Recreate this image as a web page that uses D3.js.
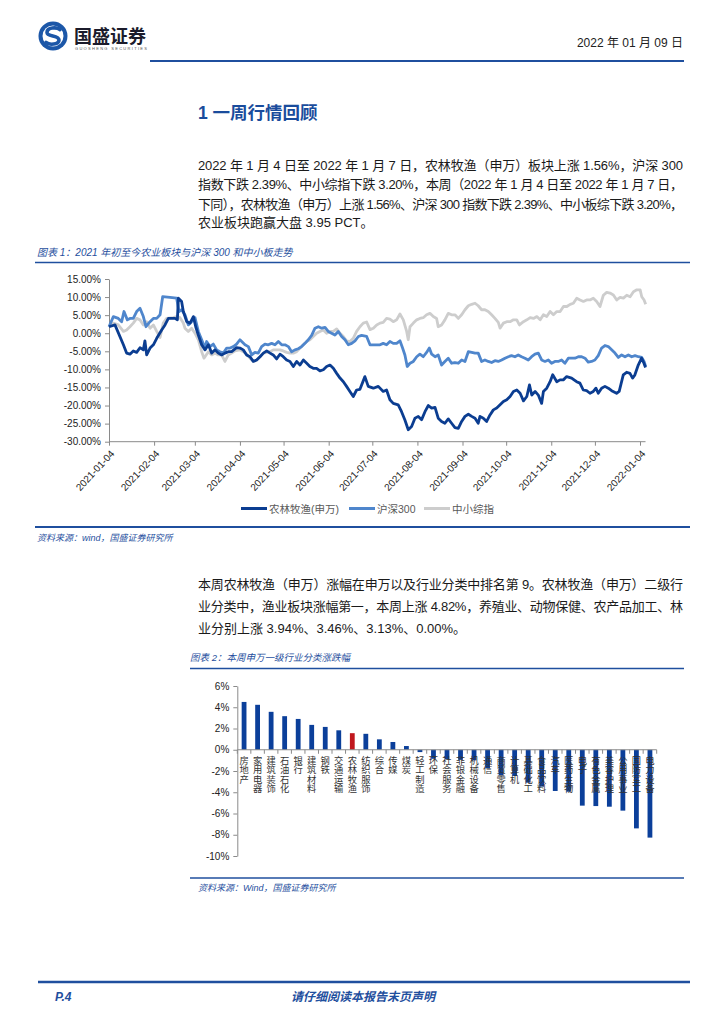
<!DOCTYPE html>
<html><head><meta charset="utf-8">
<script src="https://cdn.jsdelivr.net/npm/d3@7"></script>
<style>body{margin:0;background:#fff}svg{display:block}</style>
</head><body>
<svg id="c" width="724" height="1024"></svg>
<script>
// ---------- DATA ----------
const startDate = "2021-01-04";
// days since 2021-01-04 and cumulative change (%)
const nlDays = [0,4.1,9.9,12.1,14.4,16.7,19.0,21.3,23.6,24.7,25.9,28.2,30.5,32.8,36.2,38.5,40.8,45.4,47.0,47.7,49.9,51.1,53.4,55.7,58.0,59.6,61.4,63.7,66.0,68.3,70.6,72.9,75.1,77.4,79.7,82.0,84.3,87.7,90.0,92.3,94.6,96.9,99.2,101.5,103.8,106.1,108.4,110.7,112.9,115.2,117.5,119.8,122.1,124.4,126.7,129.0,131.3,133.6,135.9,138.1,140.4,142.7,145.0,147.3,149.6,151.9,154.2,156.5,158.8,161.1,163.3,165.6,167.9,170.2,172.5,175.9,178.2,181.7,185.1,188.5,190.8,193.1,195.4,198.8,201.1,203.4,205.7,208.0,210.3,212.6,214.9,217.2,219.5,221.8,224.1,226.3,228.6,230.9,233.2,235.5,237.8,240.1,242.4,244.7,247.0,249.3,251.6,253.8,255.0,257.3,259.6,261.9,264.2,266.5,268.8,271.1,273.4,275.7,278.0,280.3,282.6,284.9,287.2,289.0,290.6,292.9,295.1,297.4,298.6,300.9,303.2,305.0,307.8,310.0,312.3,314.6,318.0,321.4,323.7,326.0,328.3,330.6,332.9,334.7,336.3,338.6,340.9,343.2,345.5,348.9,350.7,353.5,355.8,358.1,359.9,361.5,363.8,366.1,367.7,368.8];
const nlVals = [1.8,2.3,-3.2,-5.5,-5.8,-4.9,-5.3,-4.0,-4.6,-2.1,-6.0,-4.1,-3.2,-1.4,0.9,2.3,4.1,4.1,3.7,9.7,8.8,6.0,3.2,2.8,4.6,1.8,-0.5,-3.2,-4.6,-3.2,-5.5,-4.6,-5.5,-6.0,-5.5,-5.1,-5.1,-4.0,-4.1,-4.6,-6.0,-6.5,-7.8,-7.4,-6.5,-5.5,-4.9,-5.5,-6.0,-7.1,-5.8,-6.5,-7.4,-7.8,-9.2,-7.8,-8.8,-7.4,-8.3,-9.2,-9.7,-9.7,-10.4,-10.1,-9.2,-8.8,-9.7,-11.1,-12.4,-13.4,-14.7,-16.1,-17.5,-15.7,-15.5,-12.0,-14.7,-15.2,-14.7,-16.1,-15.7,-18.4,-19.4,-19.8,-21.7,-24.0,-26.7,-25.8,-23.5,-23.0,-23.9,-21.7,-20.0,-20.7,-20.5,-23.5,-24.4,-24.9,-23.7,-24.9,-26.1,-26.3,-24.4,-23.0,-22.4,-23.0,-23.5,-24.9,-23.0,-23.5,-24.4,-22.6,-21.2,-20.7,-19.8,-18.9,-18.4,-17.5,-16.1,-15.7,-16.6,-18.7,-17.5,-14.3,-17.1,-16.1,-17.1,-19.4,-16.1,-15.2,-13.4,-11.5,-13.4,-12.9,-12.9,-12.0,-12.4,-13.4,-13.8,-15.7,-15.9,-16.6,-16.1,-15.2,-16.6,-15.2,-14.7,-15.2,-15.9,-16.6,-16.1,-11.5,-10.8,-11.1,-12.4,-11.5,-8.8,-6.9,-8.3,-9.5];

const hsDays = [0,3.0,6.4,8.7,10.3,12.6,14.4,16.7,19.0,21.3,23.6,25.4,28.2,30.5,32.8,35.1,36.9,41.9,46.5,48.1,49.9,52.2,54.5,56.8,59.1,61.4,63.7,66.0,67.1,69.4,71.7,74.0,76.3,78.6,80.9,83.2,85.5,87.7,90.0,93.5,95.8,98.1,100.3,102.6,104.9,107.2,109.5,111.8,114.1,116.4,118.7,121.0,123.3,125.5,127.8,130.1,132.4,134.7,137.0,139.3,141.6,143.9,146.2,148.5,150.7,153.0,155.3,157.6,159.9,162.2,164.5,166.8,169.1,171.4,173.6,177.1,179.4,184.0,186.3,188.5,190.8,193.1,195.4,197.7,200.0,201.8,203.4,205.0,206.9,209.2,211.5,213.7,216.0,218.3,220.2,221.8,224.1,226.3,228.6,230.9,233.2,235.5,237.8,240.1,242.4,244.7,247.0,249.3,251.6,253.8,256.1,258.4,260.7,263.0,265.3,267.6,269.9,272.2,274.5,276.7,279.0,281.3,283.6,285.9,288.2,290.5,292.8,295.1,297.4,299.7,302.0,304.2,306.5,308.8,311.1,313.4,315.7,318.0,320.3,322.6,324.9,327.2,329.4,331.7,334.0,336.3,338.6,340.9,343.2,345.5,347.8,350.1,352.4,354.7,357.0,359.3,361.6,363.9,366.2,367.8,368.9];
const hsVals = [1.8,4.6,4.1,3.2,6.0,3.7,4.1,4.1,6.0,6.9,4.6,1.8,3.2,4.1,4.1,5.1,10.1,9.9,9.7,6.0,6.5,5.1,2.3,3.2,4.3,0.5,-1.8,-4.1,-2.3,-3.7,-3.0,-4.6,-5.1,-5.5,-4.1,-4.1,-3.7,-3.0,-1.8,-3.2,-3.7,-6.0,-5.3,-5.5,-3.7,-3.0,-3.2,-2.8,-3.2,-2.3,-3.2,-3.2,-3.7,-5.1,-4.6,-4.3,-3.7,-2.8,-1.8,-0.6,1.4,1.8,1.4,1.6,0.5,0.0,-0.5,0.5,-0.9,-1.8,-3.2,-2.8,-2.1,-0.9,-0.6,-0.9,-3.2,-3.2,-3.2,-2.8,-3.2,-2.3,-2.8,-2.8,-2.1,-4.1,-6.0,-9.2,-8.3,-7.8,-6.5,-5.8,-6.5,-5.3,-4.1,-5.8,-6.5,-6.0,-8.8,-7.8,-6.9,-8.3,-8.1,-8.3,-7.4,-7.8,-5.1,-5.3,-5.5,-5.5,-7.8,-7.4,-7.8,-8.1,-7.6,-7.8,-7.4,-6.9,-6.5,-6.2,-6.5,-6.0,-6.5,-6.9,-7.4,-6.5,-5.8,-5.5,-7.4,-7.8,-7.4,-8.3,-7.8,-7.8,-7.4,-8.3,-6.9,-6.9,-6.9,-6.5,-6.5,-6.9,-8.0,-7.8,-7.4,-6.2,-4.1,-3.4,-3.7,-4.6,-5.5,-6.7,-6.0,-6.5,-6.0,-6.5,-6.2,-6.5,-6.7,-7.8,-9.2];

const zxDays = [0,3.0,6.4,9.9,12.1,14.4,16.7,19.0,21.3,23.6,25.9,28.2,30.5,32.8,35.1,37.3,39.6,44.2,46.5,48.8,51.1,52.2,54.5,56.8,59.1,61.4,63.7,65.3,68.3,70.6,72.9,75.1,77.4,79.7,82.0,84.3,86.6,90.0,92.3,94.6,96.9,99.2,101.5,103.8,106.1,108.4,110.7,112.9,115.2,117.5,119.8,122.1,124.4,126.7,129.0,131.3,133.6,135.9,138.1,140.4,142.7,145.0,147.3,149.6,151.9,154.2,156.5,158.8,161.1,163.3,165.6,167.9,170.2,172.5,174.8,177.1,179.4,181.7,184.0,186.3,188.5,190.8,193.1,195.4,197.7,200.0,202.3,204.6,205.7,206.9,209.2,211.5,213.7,216.0,218.3,220.6,222.9,225.2,226.3,228.6,230.9,233.2,235.5,237.8,240.1,242.4,244.7,247.0,249.3,251.6,253.8,256.1,258.4,260.7,263.0,265.3,267.6,268.8,271.1,273.4,275.7,278.0,280.3,282.1,284.9,287.2,289.5,291.8,294.1,296.4,298.6,300.9,303.2,305.5,307.8,310.1,312.4,314.7,317.0,319.2,321.5,323.8,326.1,328.3,330.6,332.9,335.2,337.5,339.8,342.1,344.4,346.7,349.0,351.3,353.6,355.9,358.2,360.5,362.8,365.1,366.2,367.8,368.9];
const zxVals = [1.8,2.8,2.3,0.5,0.9,1.8,2.8,4.1,3.7,2.3,3.2,1.4,2.3,0.5,-1.2,2.8,4.1,4.3,4.6,4.3,2.8,1.4,0.5,1.4,0.0,-1.8,-5.1,-6.9,-5.1,-6.0,-5.5,-6.0,-6.0,-7.8,-6.0,-5.5,-4.9,-4.6,-5.1,-5.8,-6.9,-7.8,-7.4,-6.5,-5.5,-5.3,-5.1,-4.6,-4.6,-4.6,-4.9,-5.3,-5.5,-5.5,-5.1,-4.1,-3.2,-2.3,-1.8,-0.9,0.0,0.5,0.9,0.0,0.5,0.5,1.2,0.0,-0.9,-2.1,-2.3,-1.4,0.5,1.8,2.8,3.1,1.0,1.4,2.3,2.8,3.0,4.1,3.9,3.2,3.7,5.3,3.7,0.5,-1.8,1.8,2.8,3.7,4.1,4.3,5.1,5.5,4.6,4.1,1.8,2.3,3.7,5.5,5.1,5.1,4.1,5.1,6.5,7.6,8.0,8.3,7.6,6.5,6.5,6.0,5.1,4.1,3.0,1.4,2.8,3.2,3.2,3.7,3.7,2.3,3.2,3.7,4.3,4.1,4.6,3.7,5.1,4.6,6.0,5.1,6.0,6.0,7.4,7.4,8.0,8.3,9.7,9.2,8.8,9.2,9.2,9.7,8.8,7.4,10.5,11.3,11.1,10.6,9.2,9.9,9.7,10.5,10.1,11.5,12.0,12.0,10.1,9.2,8.0];

const seriesNames = ["农林牧渔(申万)", "沪深300", "中小综指"];
const yTicks1 = [15,10,5,0,-5,-10,-15,-20,-25,-30];
const xTickLabels1 = ["2021-01-04","2021-02-04","2021-03-04","2021-04-04","2021-05-04","2021-06-04","2021-07-04","2021-08-04","2021-09-04","2021-10-04","2021-11-04","2021-12-04","2022-01-04"];

const industries = ["房地产","家用电器","建筑装饰","石油石化","银行","建筑材料","钢铁","交通运输","农林牧渔","纺织服饰","综合","传媒","煤炭","轻工制造","环保","社会服务","非银金融","机械设备","通信","商贸零售","计算机","基础化工","食品饮料","汽车","医药生物","电子","有色金属","美容护理","公用事业","国防军工","电力设备"];
const weeklyChange = [4.50,4.23,3.57,3.16,2.90,2.34,2.15,1.83,1.56,1.50,0.98,0.73,0.35,-0.22,-0.85,-0.90,-0.95,-1.00,-1.75,-2.40,-2.47,-3.10,-3.47,-3.88,-3.95,-5.26,-5.30,-5.36,-5.73,-7.40,-8.27];
const highlight = "农林牧渔";
const yTicks2 = [6,4,2,0,-2,-4,-6,-8,-10];

const para1 = [
  "2022 年 1 月 4 日至 2022 年 1 月 7 日，农林牧渔（申万）板块上涨 1.56%，沪深 300",
  "指数下跌 2.39%、中小综指下跌 3.20%，本周（2022 年 1 月 4 日至 2022 年 1 月 7 日，",
  "下同），农林牧渔（申万）上涨 1.56%、沪深 300 指数下跌 2.39%、中小板综下跌 3.20%，",
  "农业板块跑赢大盘 3.95 PCT。"
];
const para2 = [
  "本周农林牧渔（申万）涨幅在申万以及行业分类中排名第 9。农林牧渔（申万）二级行",
  "业分类中，渔业板块涨幅第一，本周上涨 4.82%，养殖业、动物保健、农产品加工、林",
  "业分别上涨 3.94%、3.46%、3.13%、0.00%。"
];

// ---------- STYLE ----------
const BLUE = "#1f4f9e";
const FONT = "'Liberation Sans','Noto Sans CJK SC',sans-serif";
const CJK = "'Noto Sans CJK SC','Liberation Sans',sans-serif";
const colors = ["#0b3d91", "#4f86cc", "#cdcdcd"];

const svg = d3.select("#c");
svg.append("rect").attr("width",724).attr("height",1024).attr("fill","#fff");

// ---------- HEADER ----------
const logo = svg.append("g");
logo.append("circle").attr("cx",53).attr("cy",36).attr("r",14.5).attr("fill","#1c57a8");
logo.append("circle").attr("cx",53).attr("cy",36).attr("r",10.5).attr("fill","#fff");
logo.append("path").attr("d","M60,29.5 C57,27 47,27 47,32.5 C47,37 59,35 59,40 C59,45 49,45 46,42.5")
  .attr("fill","none").attr("stroke","#1c57a8").attr("stroke-width",3.6).attr("stroke-linecap","round");
svg.append("text").attr("x",74).attr("y",43).attr("font-family",CJK).attr("font-weight",700)
  .attr("font-size",18).attr("fill","#1b1b2b").text("国盛证券");
svg.append("text").attr("x",75).attr("y",50).attr("font-family",FONT).attr("font-size",4)
  .attr("fill","#555").attr("textLength",72).text("GUOSHENG SECURITIES");
svg.append("text").attr("x",683).attr("y",47).attr("text-anchor","end").attr("font-family",FONT)
  .attr("font-size",12).attr("fill","#222").text("2022 年 01 月 09 日");
svg.append("line").attr("x1",150).attr("x2",684).attr("y1",61).attr("y2",61)
  .attr("stroke",BLUE).attr("stroke-width",2);

// ---------- SECTION TITLE / TEXT ----------
svg.append("text").attr("x",198).attr("y",119).attr("font-family",FONT).attr("font-weight",700)
  .attr("font-size",17.5).attr("fill","#1a4c9c").text("1 一周行情回顾");

const p1y = [170, 189, 208.5, 227];
para1.forEach((t,i)=>{
  const tx = svg.append("text").attr("x",198).attr("y",p1y[i]).attr("font-family",FONT)
    .attr("font-size",13).attr("fill","#1a1a1a").text(t);
  if (i < 3) tx.attr("textLength",485).attr("lengthAdjust","spacing");
});
const p2y = [589, 611, 633];
para2.forEach((t,i)=>{
  const tx = svg.append("text").attr("x",198).attr("y",p2y[i]).attr("font-family",FONT)
    .attr("font-size",13).attr("fill","#1a1a1a").text(t);
  if (i < 2) tx.attr("textLength",485).attr("lengthAdjust","spacing");
});

function caption(x,y,t,size){
  svg.append("text").attr("x",x).attr("y",y).attr("font-family",FONT).attr("font-style","italic")
    .attr("font-size",size).attr("fill",BLUE).text(t);
}
function rule(x1,x2,y,w){
  svg.append("line").attr("x1",x1).attr("x2",x2).attr("y1",y).attr("y2",y)
    .attr("stroke",BLUE).attr("stroke-width",w);
}
caption(37,256,"图表 1：2021 年初至今农业板块与沪深 300 和中小板走势",10);
rule(35,690,262.5,1.6);
rule(35,690,527,2);
caption(37,541,"资料来源：wind，国盛证券研究所",9);

caption(190,661,"图表 2：本周申万一级行业分类涨跌幅",9.5);
rule(190,684,668.5,1.6);
rule(190,684,878,1.6);
caption(198,891,"资料来源：Wind，国盛证券研究所",9);

rule(38,690,982,2.6);
svg.append("text").attr("x",55).attr("y",1001).attr("font-family",FONT).attr("font-style","italic")
  .attr("font-weight",700).attr("font-size",12).attr("fill",BLUE).text("P.4");
svg.append("text").attr("x",363).attr("y",1001).attr("text-anchor","middle").attr("font-family",CJK)
  .attr("font-style","italic").attr("font-weight",700).attr("font-size",12).attr("fill",BLUE)
  .text("请仔细阅读本报告末页声明");

// ---------- CHART 1 ----------
const parse = d3.timeParse("%Y-%m-%d");
const base = parse(startDate);
const toDate = d => new Date(base.getTime() + d * 864e5);
const x1 = d3.scaleTime().domain([parse(xTickLabels1[0]), parse(xTickLabels1[xTickLabels1.length-1])]).range([109,640]);
const y1 = d3.scaleLinear().domain([-30,15]).range([441.7,279]);

const g1 = svg.append("g");
const yAx = g1.append("g").attr("transform","translate(109,0)")
  .call(d3.axisLeft(y1).tickValues(yTicks1).tickFormat(d=>d.toFixed(2)+"%").tickSize(4).tickSizeOuter(0).tickPadding(4));
yAx.selectAll("text").attr("font-family",FONT).attr("font-size",10).attr("fill","#222");
yAx.selectAll("line,path").attr("stroke","#8a8a8a");

const lastDate = toDate(nlDays[nlDays.length-1]);
const xAx = g1.append("g").attr("transform","translate(0,441.7)")
  .call(d3.axisBottom(x1).tickValues(xTickLabels1.map(parse)).tickFormat(d3.timeFormat("%Y-%m-%d")).tickSize(4).tickSizeOuter(0));
xAx.select(".domain").remove();
xAx.append("line").attr("x1",109).attr("x2",x1(lastDate)).attr("stroke","#8a8a8a");
xAx.selectAll("line").attr("stroke","#8a8a8a");
xAx.selectAll("text").attr("x",0).attr("y",0).attr("dy","0.35em")
  .attr("transform","translate(3,10) rotate(-47)").attr("text-anchor","end")
  .attr("font-family",FONT).attr("font-size",10).attr("fill","#222");

const series = [
  {days:nlDays, vals:nlVals},
  {days:hsDays, vals:hsVals},
  {days:zxDays, vals:zxVals}
];
const line = d3.line().x(d=>x1(d[0])).y(d=>y1(d[1]));
[2,1,0].forEach(i=>{
  const s = series[i];
  const pts = s.days.map((d,j)=>[toDate(d), s.vals[j]]);
  g1.append("path").datum(pts).attr("d",line).attr("fill","none")
    .attr("stroke",colors[i]).attr("stroke-width",2.8).attr("stroke-linejoin","round");
});

// legend
const legX = [241, 349, 424];
seriesNames.forEach((n,i)=>{
  g1.append("line").attr("x1",legX[i]).attr("x2",legX[i]+26).attr("y1",508.5).attr("y2",508.5)
    .attr("stroke",colors[i]).attr("stroke-width",3);
  g1.append("text").attr("x",legX[i]+28).attr("y",512.5).attr("font-family",FONT)
    .attr("font-size",10.5).attr("fill","#595959").text(n);
});

// ---------- CHART 2 ----------
const x2 = d3.scaleBand().domain(industries).range([237.3,656.7]);
const y2 = d3.scaleLinear().domain([-10,6]).range([856,686]);
const g2 = svg.append("g");
const yAx2 = g2.append("g").attr("transform","translate(237.3,0)")
  .call(d3.axisLeft(y2).tickValues(yTicks2).tickFormat(d=>d+"%").tickSize(4).tickSizeOuter(0).tickPadding(4));
yAx2.selectAll("text").attr("font-family",FONT).attr("font-size",10).attr("fill","#222");
yAx2.selectAll("line,path").attr("stroke","#8a8a8a");

const barW = 4.8;
g2.selectAll("rect.bar").data(industries).join("rect").attr("class","bar")
  .attr("x",c=>x2(c)+x2.bandwidth()/2-barW/2)
  .attr("width",barW)
  .attr("y",(c,i)=>y2(Math.max(0,weeklyChange[i])))
  .attr("height",(c,i)=>Math.abs(y2(weeklyChange[i])-y2(0)))
  .attr("fill",c=>c===highlight?"#c0171d":"#0b3f9a");

// zero axis with category ticks
const y0 = y2(0);
g2.append("line").attr("x1",237.3).attr("x2",656.7).attr("y1",y0).attr("y2",y0).attr("stroke","#8a8a8a");
g2.selectAll("line.ct").data(d3.range(industries.length+1)).join("line").attr("class","ct")
  .attr("x1",i=>237.3+i*x2.step()).attr("x2",i=>237.3+i*x2.step())
  .attr("y1",y0).attr("y2",y0+4).attr("stroke","#8a8a8a");

// vertical labels (one text each, written top to bottom)
g2.selectAll("text.cat").data(industries).join("text").attr("class","cat")
  .attr("x",c=>x2(c)+x2.bandwidth()/2)
  .attr("y",y0+6)
  .style("writing-mode","vertical-rl")
  .style("text-orientation","upright")
  .attr("font-family",CJK).attr("font-size",9.3).attr("fill","#333")
  .text(c=>c);
</script>
</body></html>
